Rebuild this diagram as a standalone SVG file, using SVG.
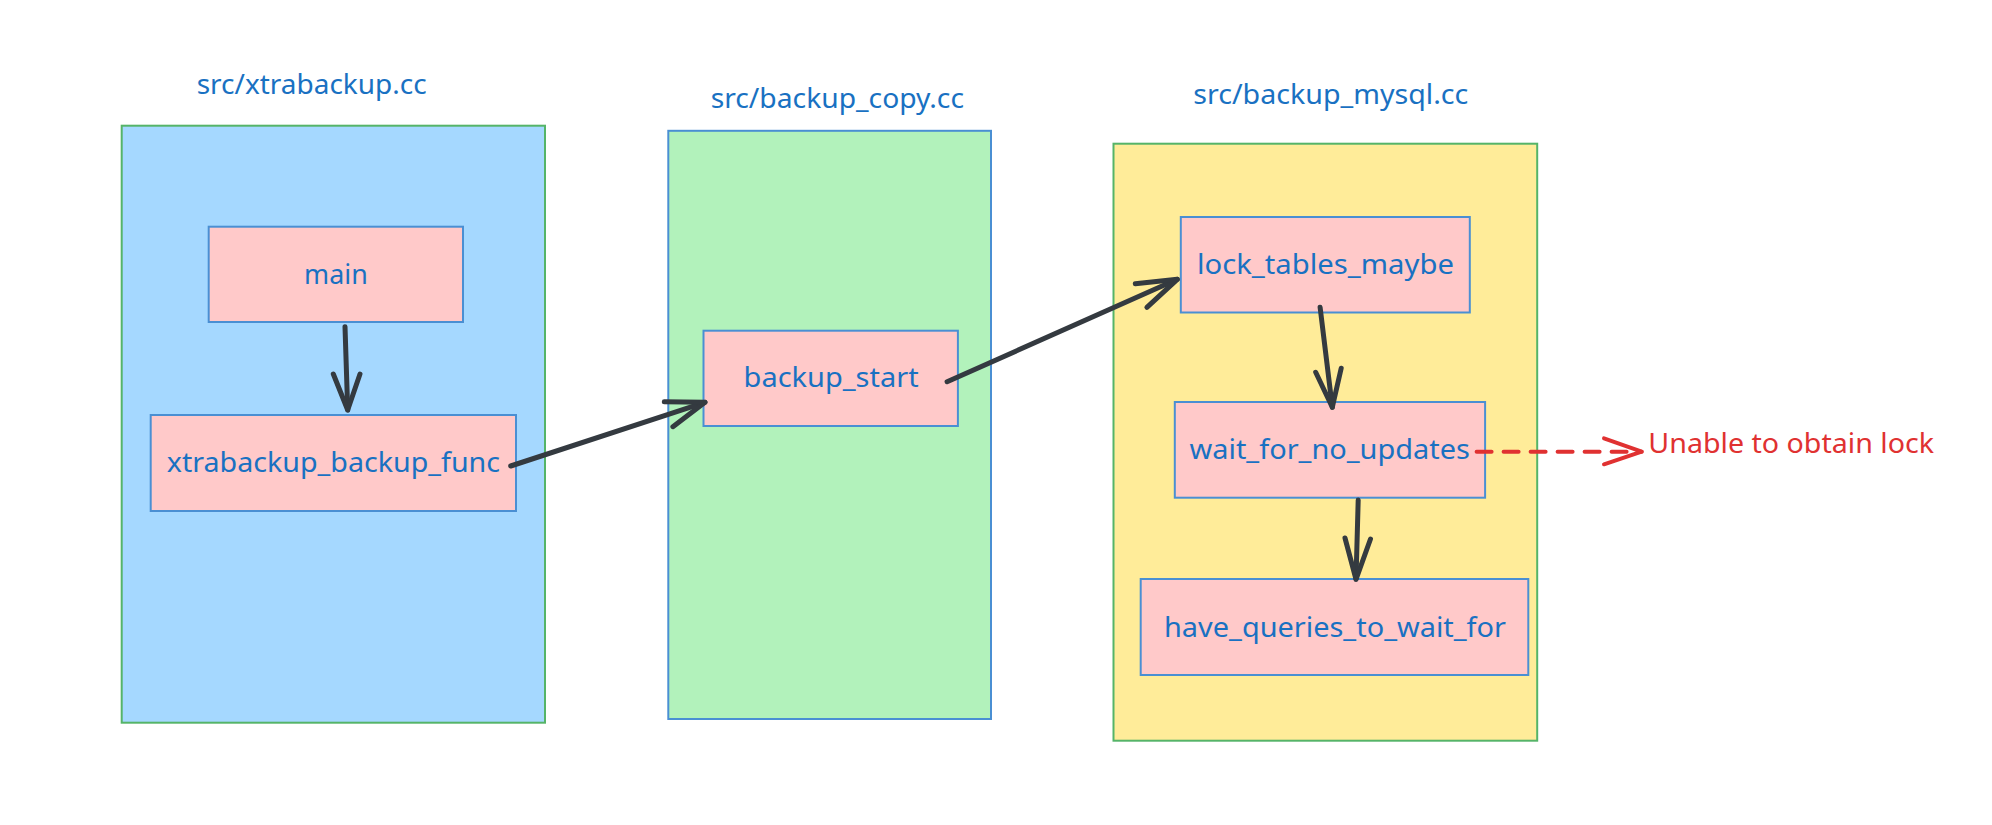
<svg xmlns="http://www.w3.org/2000/svg" width="1992" height="825" viewBox="0 0 1992 825">
  <style>
    .lbl { font-family: "Noto Sans", "Open Sans", sans-serif; font-size: 28px; fill: #1971c2; }
    .red { font-family: "Noto Sans", "Open Sans", sans-serif; font-size: 28px; fill: #e03131; }
    .node { fill: #ffc9c9; stroke: #4a8fd3; stroke-width: 2; }
    .arrow { fill: none; stroke: #343a40; stroke-width: 5; stroke-linecap: round; stroke-linejoin: round; }
    .dash { fill: none; stroke: #e03131; stroke-width: 4; stroke-linecap: round; stroke-linejoin: round; }
  </style>
  <rect width="1992" height="825" fill="#ffffff"/>

  <g id="file-xtrabackup">
    <text class="lbl" x="196.7" y="94.3" textLength="230" lengthAdjust="spacingAndGlyphs">src/xtrabackup.cc</text>
    <rect x="121.7" y="125.7" width="423.3" height="597" fill="#a5d8ff" stroke="#55b468" stroke-width="2"/>
  </g>
  <g id="file-backup-copy">
    <text class="lbl" x="710.7" y="107.7" textLength="253.3" lengthAdjust="spacingAndGlyphs">src/backup_copy.cc</text>
    <rect x="668.3" y="130.8" width="322.7" height="588.2" fill="#b2f2bb" stroke="#4a8fd3" stroke-width="2"/>
  </g>
  <g id="file-backup-mysql">
    <text class="lbl" x="1193.3" y="104.3" textLength="275" lengthAdjust="spacingAndGlyphs">src/backup_mysql.cc</text>
    <rect x="1113.5" y="143.7" width="423.7" height="597" fill="#ffec99" stroke="#55b468" stroke-width="2"/>
  </g>

  <g id="node-main">
    <rect class="node" x="208.7" y="226.7" width="254.3" height="95.3"/>
    <text class="lbl" x="335.9" y="284" text-anchor="middle" textLength="63.7" lengthAdjust="spacingAndGlyphs">main</text>
  </g>
  <g id="node-xtrabackup-backup-func">
    <rect class="node" x="150.7" y="415" width="365.3" height="96"/>
    <text class="lbl" x="333.4" y="471.7" text-anchor="middle" textLength="333.3" lengthAdjust="spacingAndGlyphs">xtrabackup_backup_func</text>
  </g>
  <g id="node-backup-start">
    <rect class="node" x="703.5" y="330.7" width="254.4" height="95.3"/>
    <text class="lbl" x="831.1" y="387.3" text-anchor="middle" textLength="175" lengthAdjust="spacingAndGlyphs">backup_start</text>
  </g>
  <g id="node-lock-tables-maybe">
    <rect class="node" x="1180.8" y="217" width="289" height="95.5"/>
    <text class="lbl" x="1325.4" y="274" text-anchor="middle" textLength="257" lengthAdjust="spacingAndGlyphs">lock_tables_maybe</text>
  </g>
  <g id="node-wait-for-no-updates">
    <rect class="node" x="1174.8" y="402" width="310.3" height="95.7"/>
    <text class="lbl" x="1329.7" y="459.3" text-anchor="middle" textLength="280.4" lengthAdjust="spacingAndGlyphs">wait_for_no_updates</text>
  </g>
  <g id="node-have-queries-to-wait-for">
    <rect class="node" x="1140.7" y="579" width="387.6" height="96"/>
    <text class="lbl" x="1335" y="637.3" text-anchor="middle" textLength="342" lengthAdjust="spacingAndGlyphs">have_queries_to_wait_for</text>
  </g>
  <g id="note-unable">
    <text class="red" x="1648.3" y="452.7" textLength="285.7" lengthAdjust="spacingAndGlyphs">Unable to obtain lock</text>
  </g>

  <g id="connectors">
    <path class="arrow" d="M345 326.7 L347.7 410"/>
    <path class="arrow" d="M333.3 374 L347.7 410 L360 374"/>

    <path class="arrow" d="M510.7 466 L705 402.3"/>
    <path class="arrow" d="M664.3 401.7 L705 402.3 L672.9 426.7"/>

    <path class="arrow" d="M947.1 381.7 L1177.3 279.3"/>
    <path class="arrow" d="M1135.3 283.8 L1177.3 279.3 L1146.9 307.3"/>

    <path class="arrow" d="M1320.1 307.3 L1332.3 407.3"/>
    <path class="arrow" d="M1315.7 372.3 L1332.3 407.3 L1341.2 368.3"/>

    <path class="arrow" d="M1358.2 500 L1356 579.3"/>
    <path class="arrow" d="M1345 538 L1356 579.3 L1370.5 539"/>

    <path class="dash" d="M1476.6 451.7 L1641.7 451.7" stroke-dasharray="15 12"/>
    <path class="dash" d="M1604 438.3 L1641.7 451.7 L1604 464.3"/>
  </g>
</svg>
